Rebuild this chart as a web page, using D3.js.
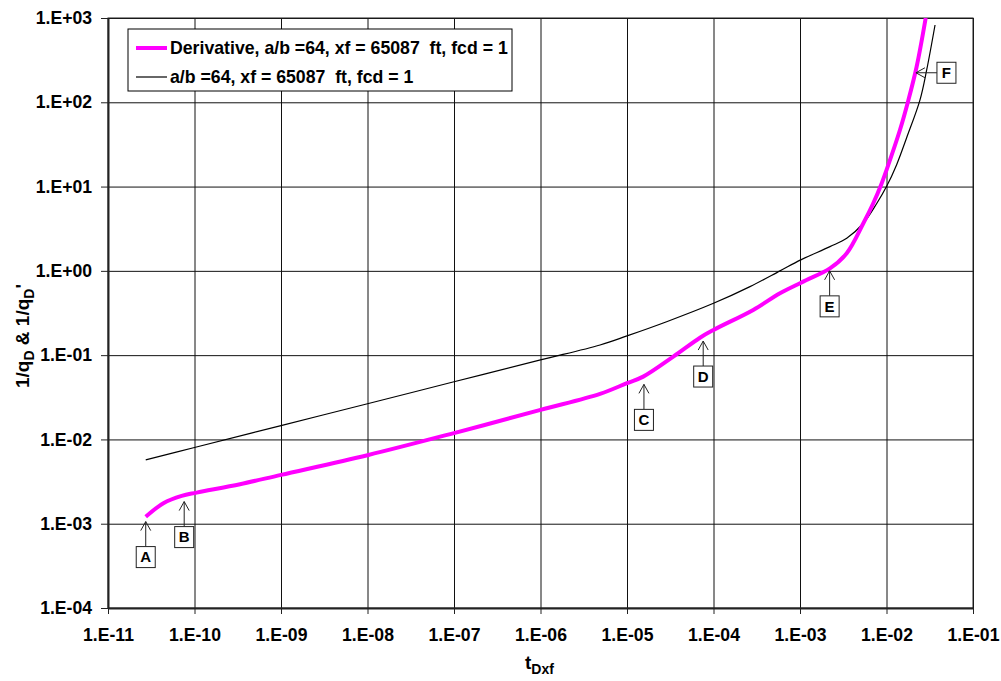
<!DOCTYPE html>
<html>
<head>
<meta charset="utf-8">
<script src="https://cdn.jsdelivr.net/npm/d3@7"></script>
<style>
body { margin: 0; background: #fff; }
text { font-family: Arial, "Liberation Sans", sans-serif; font-weight: bold; fill: #000; }
</style>
</head>
<body>
<script>
// chart values
var xTicks = [1e-11, 1e-10, 1e-9, 1e-8, 1e-7, 1e-6, 1e-5, 1e-4, 1e-3, 1e-2, 1e-1];
var xTickLabels = ["1.E-11", "1.E-10", "1.E-09", "1.E-08", "1.E-07", "1.E-06",
                   "1.E-05", "1.E-04", "1.E-03", "1.E-02", "1.E-01"];
var yTicks = [1e-4, 1e-3, 1e-2, 1e-1, 1, 10, 100, 1000];
var yTickLabels = ["1.E-04", "1.E-03", "1.E-02", "1.E-01", "1.E+00", "1.E+01", "1.E+02", "1.E+03"];

var seriesNames = ["Derivative, a/b =64, xf = 65087  ft, fcd = 1",
                   "a/b =64, xf = 65087  ft, fcd = 1"];

// derivative (magenta)
var tDeriv = [2.73e-11, 4.37e-11, 7.11e-11, 1.06e-10, 3.36e-10, 1e-9, 1e-8, 1e-7, 1e-6,
              4.88e-6, 1e-5, 1.54e-5, 3.43e-5, 6.98e-5, 1e-4, 2.88e-4, 5.87e-4, 1e-3,
              1.19e-3, 2.22e-3, 3.47e-3, 5.40e-3, 7.03e-3, 8.79e-3, 1e-2, 1.43e-2,
              1.79e-2, 2.23e-2, 2.84e-2];
var derivValues = [1.21e-3, 1.75e-3, 2.14e-3, 2.34e-3, 2.94e-3, 3.8e-3, 6.5e-3, 0.0119, 0.0224,
                   0.0347, 0.0465, 0.0556, 0.096, 0.161, 0.199, 0.344, 0.542, 0.713,
                   0.78, 1.07, 1.62, 3.67, 6.34, 10.9, 15.7, 46.9,
                   106, 264, 1000];

// 1/qD (black)
var tCurve = [2.73e-11, 1e-10, 1e-9, 1e-8, 1e-7, 1e-6, 4.88e-6, 1e-5, 2.87e-5, 1e-4,
              2.64e-4, 5.87e-4, 1.02e-3, 2.22e-3, 3.47e-3, 5.40e-3, 7.71e-3, 1e-2,
              1.31e-2, 1.71e-2, 2.44e-2, 2.91e-2, 3.64e-2];
var curveValues = [5.71e-3, 8.02e-3, 0.0146, 0.0265, 0.0483, 0.0877, 0.132, 0.169, 0.249, 0.412,
                   0.65, 1.0, 1.35, 1.94, 2.44, 3.67, 6.3, 10.0,
                   18.2, 38, 107, 240, 826];

// arrow tips of the lettered call-outs
var markLabels = ["A", "B", "C", "D", "E", "F"];
var markT = [2.73e-11, 7.6e-11, 1.57e-5, 7.6e-5, 2.2e-3, 2.19e-2];
var markV = [1.06e-3, 1.83e-3, 0.045, 0.147, 1.0, 224];
var markDir = ["up", "up", "up", "up", "up", "left"];

var margin = {top: 18, right: 28, bottom: 73, left: 108};
var width = 1001 - margin.left - margin.right;
var height = 681 - margin.top - margin.bottom;

var svg = d3.select("body")
    .append("svg")
        .attr("width", 1001)
        .attr("height", 681);

var g = svg.append("g")
    .attr("transform", "translate(" + margin.left + ", " + margin.top + ")");

var x = d3.scaleLog().domain([1e-11, 1e-1]).range([0, width]);
var y = d3.scaleLog().domain([1e-4, 1e3]).range([height, 0]);

// grid
g.append("g")
    .attr("class", "grid x")
    .attr("transform", "translate(0, " + height + ")")
    .call(d3.axisBottom(x).tickValues(xTicks).tickSize(-height).tickFormat(""))
    .call((s) => s.select(".domain").remove())
    .selectAll("line").attr("stroke", "#111");

g.append("g")
    .attr("class", "grid y")
    .call(d3.axisLeft(y).tickValues(yTicks).tickSize(-width).tickFormat(""))
    .call((s) => s.select(".domain").remove())
    .selectAll("line").attr("stroke", "#111");

// frame
g.append("rect")
    .attr("x", 0).attr("y", 0)
    .attr("width", width).attr("height", height)
    .attr("fill", "none")
    .attr("stroke", "#222")
    .attr("stroke-width", 1);

// axes
var bottomAxis = d3.axisBottom(x)
    .tickValues(xTicks)
    .tickSize(6)
    .tickSizeOuter(0)
    .tickFormat((d, i) => xTickLabels[i]);
var xAxisG = g.append("g")
    .attr("class", "bottom axis")
    .attr("transform", "translate(0, " + height + ")")
    .call(bottomAxis);
xAxisG.select(".domain").attr("stroke", "#222").attr("stroke-width", 2);
xAxisG.selectAll("line").attr("stroke", "#222");
xAxisG.selectAll("text")
    .attr("y", 21)
    .attr("dy", "0.71em")
    .attr("font-size", "17.6px")
    .style("font-family", "Arial, 'Liberation Sans', sans-serif")
    .style("font-weight", "bold")
    .attr("fill", "#000");

var leftAxis = d3.axisLeft(y)
    .tickValues(yTicks)
    .tickSize(7)
    .tickSizeOuter(0)
    .tickFormat((d, i) => yTickLabels[i]);
var yAxisG = g.append("g")
    .attr("class", "left axis")
    .call(leftAxis);
yAxisG.select(".domain").attr("stroke", "#222").attr("stroke-width", 2);
yAxisG.selectAll("line").attr("stroke", "#222");
yAxisG.selectAll("text")
    .attr("x", -16)
    .attr("font-size", "17.6px")
    .style("font-family", "Arial, 'Liberation Sans', sans-serif")
    .style("font-weight", "bold")
    .attr("fill", "#000");

// curves
g.append("clipPath").attr("id", "plotClip")
    .append("rect").attr("width", width).attr("height", height);

var line = d3.line()
    .x((d) => x(d[0]))
    .y((d) => y(d[1]))
    .curve(d3.curveCatmullRom.alpha(0.5));

g.append("path")
    .datum(d3.zip(tCurve, curveValues))
    .attr("clip-path", "url(#plotClip)")
    .attr("fill", "none")
    .attr("stroke", "#000")
    .attr("stroke-width", 1.2)
    .attr("d", line);

g.append("path")
    .datum(d3.zip(tDeriv, derivValues))
    .attr("clip-path", "url(#plotClip)")
    .attr("fill", "none")
    .attr("stroke", "#ff00ff")
    .attr("stroke-width", 4)
    .attr("stroke-linejoin", "round")
    .attr("d", line);

// call-outs
var marks = markLabels.map((l, i) => ({label: l, t: markT[i], v: markV[i], dir: markDir[i]}));
var mk = g.selectAll(".mark").data(marks).enter()
    .append("g")
        .attr("class", "mark")
        .attr("transform", (d) => "translate(" + x(d.t) + "," + y(d.v) + ")");

mk.append("line")
    .attr("x1", 0).attr("y1", 0)
    .attr("x2", (d) => d.dir == "left" ? 21 : 0)
    .attr("y2", (d) => d.dir == "left" ? 0 : 25)
    .attr("stroke", "#222").attr("stroke-width", 1);
mk.append("path")
    .attr("d", (d) => d.dir == "left" ? "M9,-5L0,0L9,5" : "M-5,9L0,0L5,9")
    .attr("fill", "none")
    .attr("stroke", "#222").attr("stroke-width", 1);
mk.append("rect")
    .attr("x", (d) => d.dir == "left" ? 21 : -9.5)
    .attr("y", (d) => d.dir == "left" ? -10.5 : 25)
    .attr("width", 19).attr("height", 21)
    .attr("fill", "#fff")
    .attr("stroke", "#222").attr("stroke-width", 1);
mk.append("text")
    .attr("x", (d) => d.dir == "left" ? 30.5 : 0)
    .attr("y", (d) => d.dir == "left" ? 0 : 35.5)
    .attr("dy", "0.36em")
    .attr("text-anchor", "middle")
    .attr("font-size", "15px")
    .text((d) => d.label);

// legend
var legend = g.append("g")
    .attr("class", "legend")
    .attr("transform", "translate(20, 11)");
legend.append("rect")
    .attr("x", 0).attr("y", 0)
    .attr("width", 384).attr("height", 62)
    .attr("fill", "#fff")
    .attr("stroke", "#000").attr("stroke-width", 1);
var legendStyles = [{color: "#ff00ff", w: 4}, {color: "#000", w: 1.2}];
seriesNames.forEach((name, i) => {
    var yy = 19 + i * 29;
    legend.append("line")
        .attr("x1", 8).attr("x2", 39)
        .attr("y1", yy).attr("y2", yy)
        .attr("stroke", legendStyles[i].color)
        .attr("stroke-width", legendStyles[i].w);
    legend.append("text")
        .attr("x", 42).attr("y", yy)
        .attr("dy", "0.36em")
        .attr("font-size", "17.7px")
        .style("white-space", "pre")
        .text(name);
});

// axis titles
var xt = g.append("text")
    .attr("class", "x axis-label")
    .attr("x", 417)
    .attr("y", height + 61)
    .attr("font-size", "19px");
xt.append("tspan").text("t");
xt.append("tspan").attr("font-size", "14px").attr("dy", 5).text("Dxf");

var yt = g.append("text")
    .attr("class", "y axis-label")
    .attr("transform", "translate(-79, " + (336 - margin.top) + ") rotate(-90)")
    .attr("text-anchor", "middle")
    .attr("font-size", "19px");
yt.append("tspan").text("1/q");
yt.append("tspan").attr("font-size", "14px").attr("dy", 5).text("D");
yt.append("tspan").attr("dy", -5).text(" & 1/q");
yt.append("tspan").attr("font-size", "14px").attr("dy", 5).text("D");
yt.append("tspan").attr("dy", -5).text("'");
</script>
</body>
</html>
